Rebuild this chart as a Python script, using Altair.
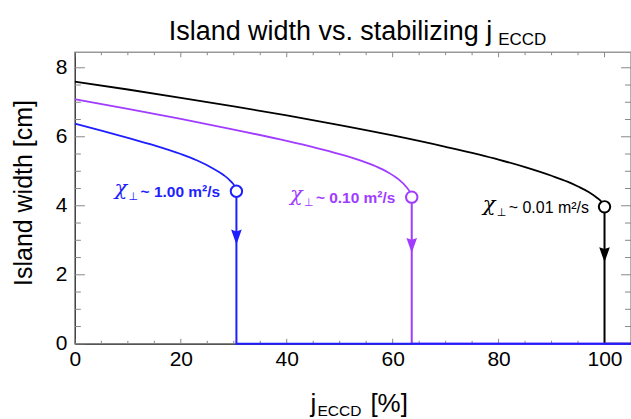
import altair as alt
import pandas as pd

FONT = "Liberation Sans, Arial, Helvetica, sans-serif"

# ---------------- data ----------------
series = ["0.01", "0.10", "1.00"]
colors = ["#000000", "#a03cff", "#1e1eff"]
chi_texts = ["~ 0.01 m²/s", "~ 0.10 m²/s", "~ 1.00 m²/s"]
label_bold = [False, True, True]

j_black = [0, 10, 20, 30, 40, 50, 60, 70, 80, 85, 90, 93, 95, 97, 98.5, 99.5, 100]
w_black = [7.60, 7.37, 7.13, 6.88, 6.62, 6.34, 6.04, 5.71, 5.34, 5.12, 4.87, 4.70, 4.56,
           4.40, 4.24, 4.10, 3.97]
j_purple = [0, 10, 20, 30, 40, 45, 50, 54, 57, 59, 61, 62.5, 63.3, 63.6]
w_purple = [7.09, 6.81, 6.52, 6.21, 5.88, 5.70, 5.50, 5.31, 5.13, 4.98, 4.78, 4.56, 4.38, 4.25]
j_blue = [0, 5, 10, 15, 20, 23, 26, 28, 29.5, 30.2, 30.5]
w_blue = [6.38, 6.18, 5.97, 5.75, 5.50, 5.32, 5.09, 4.90, 4.70, 4.55, 4.42]

j_crit = [100, 63.6, 30.5]
w_crit = [3.97, 4.25, 4.42]
w_arrow = [2.58, 2.85, 3.09]

X_MAX = 105
Y_MAX = 8.45
x_major = [0, 20, 40, 60, 80, 100]
x_minor = [5, 10, 15, 25, 30, 35, 45, 50, 55, 65, 70, 75, 85, 90, 95]
y_major = [0, 2, 4, 6, 8]
y_minor = [0.5, 1, 1.5, 2.5, 3, 3.5, 4.5, 5, 5.5, 6.5, 7, 7.5]

title_main = "Island width vs. stabilizing j"
title_sub = "ECCD"
xlabel_main = "j"
xlabel_sub = "ECCD"
xlabel_unit = "[%]"
ylabel = "Island width [cm]"

# ---------------- tables ----------------
rows = []
for s, js, ws in zip(series, [j_black, j_purple, j_blue], [w_black, w_purple, w_blue]):
    for i, (j, w) in enumerate(zip(js, ws)):
        rows.append({"s": s, "j": j, "w": w, "i": i})
df_curves = pd.DataFrame(rows)

drop_rows = []
for s, jc, wc in zip(series, j_crit, w_crit):
    for i, (j, w) in enumerate([(jc, wc), (jc, 0.0), (X_MAX, 0.0)]):
        drop_rows.append({"s": s, "j": j, "w": w, "i": i})
df_drops = pd.DataFrame(drop_rows)

df_crit = pd.DataFrame({"s": series, "j": j_crit, "w": w_crit, "txt": chi_texts, "bold": label_bold})
df_arrow = pd.DataFrame({"s": series, "j": j_crit, "w": w_arrow})
df_bold = df_crit[df_crit["bold"]]
df_norm = df_crit[~df_crit["bold"]]

W, H = 557, 292

xs = alt.Scale(domain=[0, X_MAX], nice=False, zero=False)
ys = alt.Scale(domain=[0, Y_MAX], nice=False, zero=False)
xaxis = alt.Axis(values=x_major, ticks=False, tickSize=0, domain=True, domainColor="#333",
                 labelFontSize=21, labelFont=FONT, labelPadding=5, labelFlush=False,
                 grid=False, title=None, labelColor="#000")
yaxis = alt.Axis(values=y_major, ticks=False, tickSize=0, domain=True, domainColor="#333",
                 labelFontSize=21, labelFont=FONT, labelPadding=8, grid=False, title=None,
                 labelColor="#000")


def X(f="j"):
    return alt.X(f"{f}:Q", scale=xs, axis=xaxis)


def Y(f="w"):
    return alt.Y(f"{f}:Q", scale=ys, axis=yaxis)


color = alt.Color("s:N", scale=alt.Scale(domain=series, range=colors), legend=None)

TICK = "#888"
df_xmaj = pd.DataFrame({"j": x_major})
df_xmin = pd.DataFrame({"j": x_minor})
df_ymaj = pd.DataFrame({"w": y_major})
df_ymin = pd.DataFrame({"w": y_minor})

ticks = [
    alt.Chart(df_xmaj).mark_rule(color=TICK).encode(x=X(), y=alt.value(H), y2=alt.value(H - 5)),
    alt.Chart(df_xmin).mark_rule(color=TICK).encode(x=X(), y=alt.value(H), y2=alt.value(H - 3)),
    alt.Chart(df_xmaj).mark_rule(color=TICK).encode(x=X(), y=alt.value(0), y2=alt.value(5)),
    alt.Chart(df_xmin).mark_rule(color=TICK).encode(x=X(), y=alt.value(0), y2=alt.value(3)),
    alt.Chart(df_ymaj).mark_rule(color=TICK).encode(y=Y(), x=alt.value(0), x2=alt.value(10)),
    alt.Chart(df_ymin).mark_rule(color=TICK).encode(y=Y(), x=alt.value(0), x2=alt.value(6)),
    alt.Chart(df_ymaj).mark_rule(color=TICK).encode(y=Y(), x=alt.value(W), x2=alt.value(W - 10)),
    alt.Chart(df_ymin).mark_rule(color=TICK).encode(y=Y(), x=alt.value(W), x2=alt.value(W - 6)),
]

curves = alt.Chart(df_curves).mark_line(strokeWidth=1.8, clip=False, interpolate="monotone").encode(
    x=X(), y=Y(), color=color, order=alt.Order("i:Q"))
drops = alt.Chart(df_drops).mark_line(strokeWidth=2, clip=False).encode(
    x=X(), y=Y(), color=color, order=alt.Order("i:Q"))

arrows = alt.Chart(df_arrow).mark_point(
    shape="M-0.7,-1L0,-0.75L0.7,-1L0,1Z", filled=True, size=230, opacity=1).encode(
    x=X(), y=Y(), color=color)

circles = alt.Chart(df_crit).mark_point(
    shape="circle", filled=True, fill="white", size=130, strokeWidth=2, opacity=1).encode(
    x=X(), y=Y(), stroke=alt.Stroke("s:N", scale=alt.Scale(domain=series, range=colors), legend=None))

chi = alt.Chart(df_crit).mark_text(
    text="χ", font="DejaVu Serif, serif", fontStyle="italic", fontSize=21,
    align="left", baseline="middle", dx=-122, dy=-2).encode(x=X(), y=Y(), color=color)
perp = alt.Chart(df_crit).mark_text(
    text="⊥", font="DejaVu Sans, sans-serif", fontSize=11, align="left", baseline="middle",
    dx=-108, dy=6).encode(x=X(), y=Y(), color=color)
txt_bold = alt.Chart(df_bold).mark_text(
    font=FONT, fontWeight="bold", fontSize=15.5, align="left", baseline="middle", dx=-96, dy=1).encode(
    x=X(), y=Y(), color=color, text="txt:N")
txt_norm = alt.Chart(df_norm).mark_text(
    font=FONT, fontSize=16, align="left", baseline="middle", dx=-96, dy=1).encode(
    x=X(), y=Y(), color=color, text="txt:N")


def label(t, x, y, size, **kw):
    return alt.Chart(pd.DataFrame({"t": [t]})).mark_text(
        font=FONT, fontSize=size, align="left", baseline="alphabetic", color="#000", **kw).encode(
        x=alt.value(x), y=alt.value(y), text="t:N")


titles = [
    label(title_main, 94, -12, 27),
    label(title_sub, 424, -7, 17),
    label(xlabel_main, 236, 360, 26),
    label(xlabel_sub, 243, 364, 15.5),
    label(xlabel_unit, 296, 360, 26),
    alt.Chart(pd.DataFrame({"t": [ylabel]})).mark_text(
        font=FONT, fontSize=25, align="center", baseline="alphabetic", angle=270, color="#000").encode(
        x=alt.value(-43), y=alt.value(H / 2 - 5), text="t:N"),
]

chart = alt.layer(*ticks, curves, drops, arrows, circles, chi, perp, txt_bold, txt_norm, *titles).properties(
    width=W, height=H,
    padding={"left": 75, "top": 52, "right": 0, "bottom": 75},
    autosize="none",
    background="white",
).configure_view(stroke="#999", strokeWidth=1.5)

chart.save("out.html", embed_options={"renderer": "svg", "actions": False})
